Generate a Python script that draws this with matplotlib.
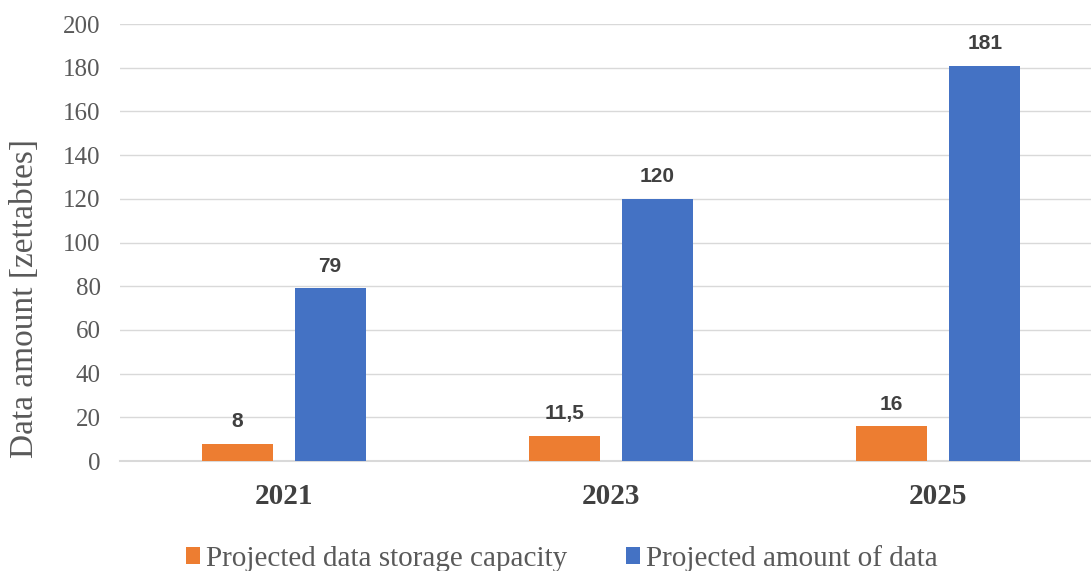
import matplotlib.pyplot as plt
import numpy as np

# Chart data
years = ['2021', '2023', '2025']
storage_capacity = [8, 11.5, 16]
data_amount = [79, 120, 181]
storage_labels = ['8', '11,5', '16']
amount_labels = ['79', '120', '181']

orange = '#ED7D31'
blue = '#4472C4'
serif = 'Liberation Serif'

fig = plt.figure(figsize=(10.91, 5.71), dpi=100)
ax = fig.add_axes([0.110, 0.1926, 0.890, 0.7653])

x = np.arange(len(years))
w = 0.217
off = 0.142
b1 = ax.bar(x - off, storage_capacity, w, color=orange, label='Projected data storage capacity', zorder=3)
b2 = ax.bar(x + off, data_amount, w, color=blue, label='Projected amount of data', zorder=3)

# value labels above bars
for bars, labs in [(b1, storage_labels), (b2, amount_labels)]:
    for rect, lab in zip(bars, labs):
        ax.annotate(lab, (rect.get_x() + rect.get_width() / 2, rect.get_height()),
                    xytext=(0, 9), textcoords='offset points', ha='center', va='bottom',
                    fontsize=15, fontweight='bold', family='Liberation Sans', color='#404040')

ax.set_xlim(-0.5, -0.5 + 971 / 327.3)
ax.set_ylim(0, 200)
ax.set_yticks(range(0, 201, 20))
ax.set_xticks(x)
ax.set_xticklabels(years, fontsize=21, fontweight='bold', family=serif, color='#404040')
for t in ax.get_yticklabels():
    t.set_family(serif)
    t.set_fontsize(18)
    t.set_color('#595959')
ax.tick_params(length=0)
ax.tick_params(axis='x', pad=16)
ax.tick_params(axis='y', pad=14)
ax.grid(axis='y', color='#D9D9D9', linewidth=1, zorder=0)
ax.axhline(0, color='#D9D9D9', linewidth=1.5, zorder=1, clip_on=False)
for s in ax.spines.values():
    s.set_visible(False)

ax.set_ylabel('Data amount [zettabtes]', fontsize=24, family=serif, color='#595959')
ax.yaxis.set_label_coords(-80 / 971, 0.373)

fig.legend(handles=[b1, b2], loc='center', bbox_to_anchor=(0.515, 0.022), ncol=2, frameon=False,
           prop={'family': serif, 'size': 21}, handlelength=0.5, handleheight=0.5,
           handletextpad=0.2, columnspacing=2.0, labelcolor='#595959',
           borderaxespad=0, borderpad=0)

plt.savefig('out.png', dpi=100)
